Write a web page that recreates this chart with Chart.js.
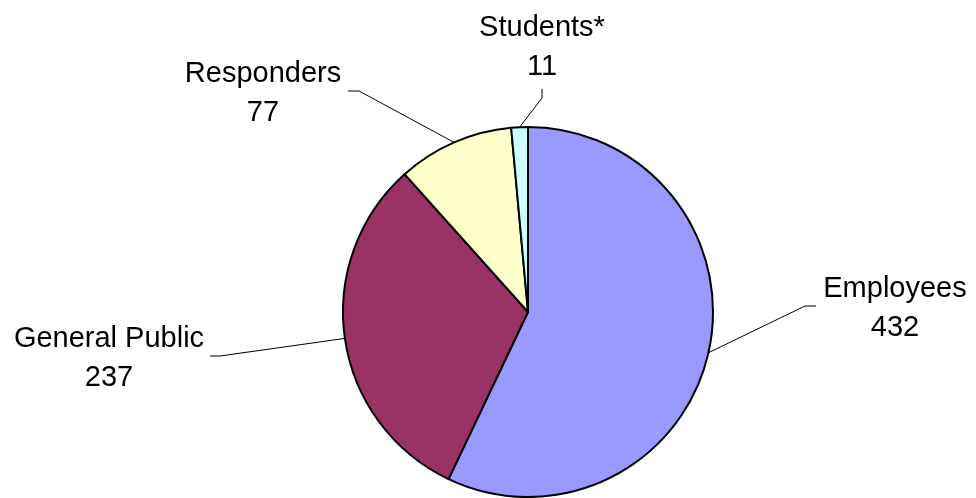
<!DOCTYPE html>
<html>
<head>
<meta charset="utf-8">
<script src="https://cdn.jsdelivr.net/npm/chart.js@4/dist/chart.umd.min.js"></script>
<style>
  html, body { margin: 0; padding: 0; background: #fff; }
  #wrap { width: 976px; height: 498px; }
</style>
</head>
<body>
<div id="wrap"><canvas id="pieCanvas" width="976" height="498"></canvas></div>
<script>
var groups = ['Employees', 'General Public', 'Responders', 'Students*'];
var counts = [432, 237, 77, 11];
var sliceColors = ['#9999ff', '#993366', '#ffffcc', '#ccffff'];

// where each callout goes: elbow / end of leader line and text centre + first baseline
var callouts = [
  { elbow: [805, 306], end: [816, 306], tx: 895, ty: 297 },
  { elbow: [220, 356], end: [210, 356], tx: 109, ty: 347 },
  { elbow: [359, 91],  end: [348, 91],  tx: 263, ty: 82 },
  { elbow: [542, 98],  end: [542, 89],  tx: 542, ty: 36 }
];

var calloutPlugin = {
  id: 'callouts',
  afterDatasetsDraw: function(chart) {
    var ctx = chart.ctx;
    var meta = chart.getDatasetMeta(0);
    ctx.save();
    ctx.strokeStyle = '#000';
    ctx.lineWidth = 1;
    ctx.fillStyle = '#000';
    ctx.font = '29px "Liberation Sans", Arial, sans-serif';
    ctx.textAlign = 'center';
    ctx.textBaseline = 'alphabetic';
    meta.data.forEach(function(arc, i) {
      var p = arc.getProps(['x', 'y', 'startAngle', 'endAngle', 'outerRadius'], true);
      var mid = (p.startAngle + p.endAngle) / 2;
      var ax = p.x + Math.cos(mid) * p.outerRadius;
      var ay = p.y + Math.sin(mid) * p.outerRadius;
      var c = callouts[i];
      ctx.beginPath();
      ctx.moveTo(ax, ay);
      ctx.lineTo(c.elbow[0], c.elbow[1]);
      ctx.lineTo(c.end[0], c.end[1]);
      ctx.stroke();
      ctx.fillText(chart.data.labels[i], c.tx, c.ty);
      ctx.fillText(String(chart.data.datasets[0].data[i]), c.tx, c.ty + 39);
    });
    ctx.restore();
  }
};

var ctx = document.getElementById('pieCanvas');
var pieChart = new Chart(ctx, {
  type: 'pie',
  data: {
    labels: groups,
    datasets: [{
      data: counts,
      backgroundColor: sliceColors,
      borderColor: '#000',
      borderWidth: 2,
      hoverOffset: 0
    }]
  },
  options: {
    responsive: false,
    animation: false,
    radius: 185,
    layout: { padding: { left: 343, right: 263, top: 127, bottom: 1 } },
    plugins: {
      legend: { display: false },
      tooltip: { enabled: false }
    }
  },
  plugins: [calloutPlugin]
});
</script>
</body>
</html>
